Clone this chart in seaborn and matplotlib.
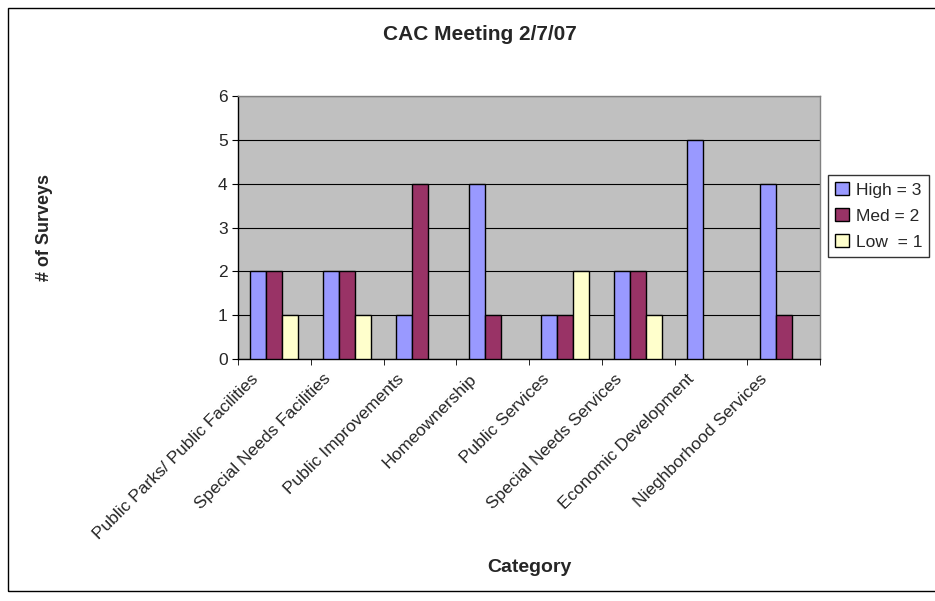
import pandas as pd
import matplotlib.pyplot as plt
import matplotlib.transforms as mtransforms
import seaborn as sns
from matplotlib.patches import Rectangle, Patch

# values
categories = ['Public Parks/ Public Facilities', 'Special Needs Facilities',
              'Public Improvements', 'Homeownership', 'Public Services',
              'Special Needs Services', 'Economic Development',
              'Nieghborhood Services']
high = [2, 2, 1, 4, 1, 2, 5, 4]
med = [2, 2, 4, 1, 1, 2, 0, 1]
low = [1, 1, 0, 0, 2, 1, 0, 0]
series = ['High = 3', 'Med = 2', 'Low  = 1']
colors = ['#9999FF', '#993366', '#FFFFCC']

rows = []
for name, vals in zip(series, [high, med, low]):
    for c, v in zip(categories, vals):
        rows.append({'Category': c, 'Count': v, 'Series': name})
df = pd.DataFrame(rows)

sns.set_style('white')
plt.rcParams['font.family'] = ['Liberation Sans', 'DejaVu Sans']

fig = plt.figure(figsize=(9.35, 6.01), dpi=100)
ax = fig.add_axes([238/935, 1 - 359/601, 582/935, 263/601])
ax.set_facecolor('#C0C0C0')

sns.barplot(data=df, x='Category', y='Count', hue='Series', palette=colors,
            width=0.66, gap=0, saturation=1, edgecolor='black', linewidth=1,
            ax=ax, zorder=3, legend=False)

# empty bars are not drawn in the original
for p in ax.patches:
    if p.get_height() == 0:
        p.set_visible(False)

ax.set_ylim(0, 6)
ax.set_xlim(-0.5, len(categories) - 0.5)
ax.set_yticks(range(7))
ax.yaxis.grid(True, color='black', linewidth=0.8, zorder=1)
ax.set_axisbelow(True)
ax.tick_params(axis='y', labelsize=12.5, length=4, color='black', direction='out', left=True)
ax.set_xticks(range(len(categories)))
ax.set_xticklabels(categories, rotation=45, ha='right', rotation_mode='anchor', fontsize=12.5)
ax.tick_params(axis='x', length=0, pad=6)
ax.set_xticks([i - 0.5 for i in range(len(categories) + 1)], minor=True)
ax.tick_params(axis='x', which='minor', length=4, color='black', bottom=True)
shift = mtransforms.ScaledTranslation(-24/100, -4/100, fig.dpi_scale_trans)
for lab in ax.get_xticklabels():
    lab.set_transform(lab.get_transform() + shift)

for s in ['top', 'right']:
    ax.spines[s].set_color('#808080')
for s in ['left', 'bottom']:
    ax.spines[s].set_color('black')
for s in ax.spines.values():
    s.set_linewidth(1)

ax.set_xlabel('Category', fontsize=14, fontweight='bold', labelpad=0)
ax.xaxis.set_label_coords(0.5, -(567 - 359) / 263)
ax.xaxis.label.set_va('center')
ax.set_ylabel('# of Surveys', fontsize=13, fontweight='bold')
ax.yaxis.set_label_coords(-(238 - 45) / 582, 0.5)
ax.yaxis.label.set_va('center')

fig.text(480/935, 1 - 35/601, 'CAC Meeting 2/7/07', ha='center', va='center',
         fontsize=15, fontweight='bold')

handles = [Patch(facecolor=c, edgecolor='black', linewidth=1) for c in colors]
leg = fig.legend(handles, series, loc='upper left',
                 bbox_to_anchor=(828/935, 1 - 175/601), fontsize=12.5,
                 frameon=True, fancybox=False, edgecolor='black',
                 handlelength=0.8, handleheight=0.8, handletextpad=0.4,
                 borderpad=0.4, labelspacing=0.6, borderaxespad=0)
leg.get_frame().set_linewidth(1)

# outer chart border
fig.patches.append(Rectangle((8/935, 10/601), 1.2, 1 - 18/601, transform=fig.transFigure,
                             fill=False, edgecolor='black', linewidth=1))

fig.savefig('out.png', dpi=100)
